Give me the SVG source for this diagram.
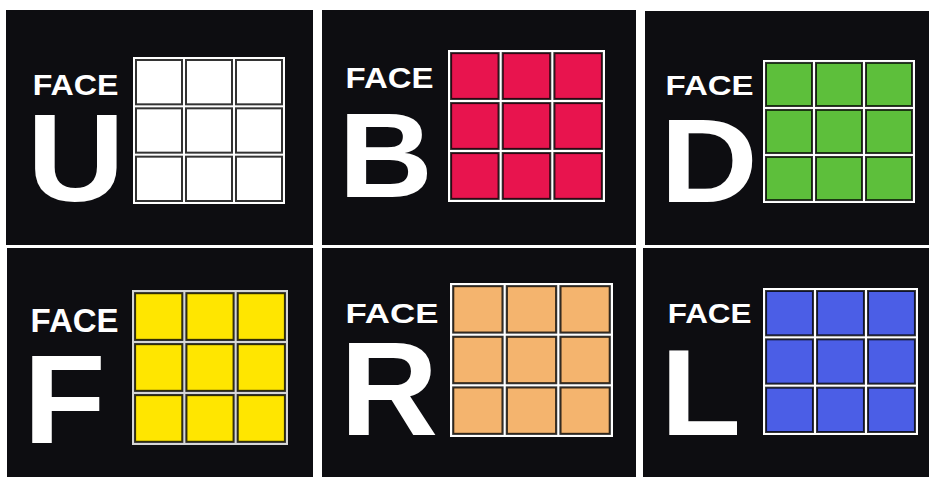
<svg xmlns="http://www.w3.org/2000/svg" xmlns:xlink="http://www.w3.org/1999/xlink" width="929" height="477" viewBox="0 0 929 477">
<style>
.bg{fill:#0d0d11}
.face{font-family:"Liberation Sans",Arial,sans-serif;font-weight:bold;fill:#fff}
.cell{fill:currentColor;stroke:#000;stroke-opacity:0.8;stroke-width:2}
</style>
<defs>
<symbol id="grid" viewBox="0 0 152 147" preserveAspectRatio="none">
<rect x="0" y="0" width="152" height="147" style="fill:var(--frame,#fff)"/>
<rect class="cell" x="3" y="3" width="46" height="44.33"/>
<rect class="cell" x="53" y="3" width="46" height="44.33"/>
<rect class="cell" x="103" y="3" width="46" height="44.33"/>
<rect class="cell" x="3" y="51.33" width="46" height="44.33"/>
<rect class="cell" x="53" y="51.33" width="46" height="44.33"/>
<rect class="cell" x="103" y="51.33" width="46" height="44.33"/>
<rect class="cell" x="3" y="99.67" width="46" height="44.33"/>
<rect class="cell" x="53" y="99.67" width="46" height="44.33"/>
<rect class="cell" x="103" y="99.67" width="46" height="44.33"/>
</symbol>
</defs>
<rect x="0" y="0" width="929" height="477" fill="#fff"/>

<g id="face-u">
<rect class="bg" x="6" y="10" width="307" height="235"/>
<text class="face" x="32.7" y="95" font-size="30" textLength="85.7" lengthAdjust="spacingAndGlyphs">FACE</text>
<text class="face" x="27.1" y="201" font-size="124" textLength="97.8" lengthAdjust="spacingAndGlyphs">U</text>
<use xlink:href="#grid" x="133" y="57" width="152" height="147" color="#ffffff"/>
</g>

<g id="face-b">
<rect class="bg" x="322" y="10" width="314" height="235"/>
<text class="face" x="345.6" y="88" font-size="29" textLength="87.9" lengthAdjust="spacingAndGlyphs">FACE</text>
<text class="face" x="338.4" y="197" font-size="121" textLength="94.5" lengthAdjust="spacingAndGlyphs">B</text>
<use xlink:href="#grid" x="448" y="50" width="157" height="152" color="#e8144e"/>
</g>

<g id="face-d">
<rect class="bg" x="645" y="11" width="284" height="234"/>
<text class="face" x="665.6" y="95" font-size="28" textLength="88" lengthAdjust="spacingAndGlyphs">FACE</text>
<text class="face" x="660.1" y="202" font-size="119" textLength="97.9" lengthAdjust="spacingAndGlyphs">D</text>
<use xlink:href="#grid" x="763" y="60" width="152" height="143" color="#5dbf3b"/>
</g>

<g id="face-f">
<rect class="bg" x="7" y="248" width="306" height="229"/>
<text class="face" x="30.6" y="332" font-size="33" textLength="88" lengthAdjust="spacingAndGlyphs">FACE</text>
<text class="face" x="23.2" y="443" font-size="127" textLength="82.4" lengthAdjust="spacingAndGlyphs">F</text>
<use xlink:href="#grid" x="132" y="290" width="156" height="155" color="#ffe600" style="--frame:#d6d6d6"/>
</g>

<g id="face-r">
<rect class="bg" x="322" y="248" width="314" height="229"/>
<text class="face" x="345.5" y="323" font-size="28" textLength="93" lengthAdjust="spacingAndGlyphs">FACE</text>
<text class="face" x="340.1" y="435" font-size="133" textLength="98.1" lengthAdjust="spacingAndGlyphs">R</text>
<use xlink:href="#grid" x="450" y="283" width="163" height="154" color="#f4b46e"/>
</g>

<g id="face-l">
<rect class="bg" x="643" y="248" width="286" height="229"/>
<text class="face" x="667.7" y="323" font-size="28" textLength="83.8" lengthAdjust="spacingAndGlyphs">FACE</text>
<text class="face" x="660.4" y="435" font-size="123" textLength="80.6" lengthAdjust="spacingAndGlyphs">L</text>
<use xlink:href="#grid" x="763" y="288" width="155" height="147" color="#4b5ee6"/>
</g>
</svg>
